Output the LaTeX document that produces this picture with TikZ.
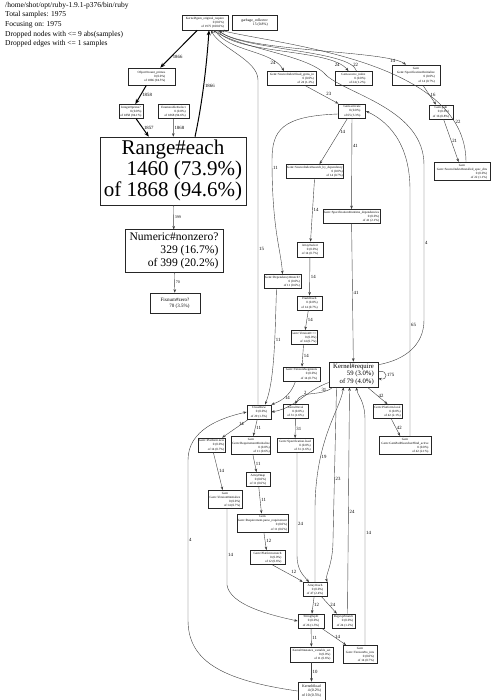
\documentclass[tikz,border=0pt]{standalone}
\usepackage{fontspec}
\setmainfont{Liberation Serif}
\usepackage{tikz}
\usetikzlibrary{arrows.meta,calc}
\newcommand{\prof}[3]{\begin{tabular}{@{}r@{}}\multicolumn{1}{@{}c@{}}{#1}\\#2\\of #3\end{tabular}}
\newcommand{\profg}[3]{\begin{tabular}{@{}r@{}}\multicolumn{1}{@{}c@{}}{Gem}\\\multicolumn{1}{@{}c@{}}{#1}\\#2\\of #3\end{tabular}}

\begin{document}
\begin{tikzpicture}[x=1pt,y=1pt,
  fnbox/.style={draw=black!85,line width=0.6pt,fill=white,inner sep=0.8pt,font=\fontsize{3.2}{4.2}\selectfont},
  calls/.style={draw=black!75,line width=0.4pt,-{Stealth[length=3.5pt,width=2.6pt]}},
  heavy/.style={draw=black,line width=1pt,-{Stealth[length=5pt,width=4pt]}},
  elab/.style={font=\fontsize{4.8}{5}\selectfont,inner sep=1pt}]
\fill[white] (0,0) rectangle (491,-700);
\useasboundingbox (0,0) rectangle (491,-700);
\node[anchor=north west,align=left,inner sep=0pt,font=\fontsize{7.5}{9.6}\selectfont] (hdr) at (5,-2) {/home/shot/opt/ruby-1.9.1-p376/bin/ruby\\Total samples: 1975\\Focusing on: 1975\\Dropped nodes with <= 9 abs(samples)\\Dropped edges with <= 1 samples};
% left column: the hot path
\node[fnbox,minimum width=46pt,minimum height=15pt] (gor) at (205,-22.5) {\prof{Kernel\#gem\_original\_require}{0 (0.0\%)}{1975 (100.0\%)}};
\node[fnbox,minimum width=45pt,minimum height=15pt,align=right,font=\fontsize{3.7}{4.6}\selectfont] (gc) at (254.5,-22.5) {garbage\_collector\\15 (0.8\%)};
\node[fnbox,minimum width=47pt,minimum height=17pt] (cp) at (151.5,-76.5) {\prof{Object\#count\_primes}{0 (0.0\%)}{1866 (94.5\%)}};
\node[fnbox,minimum width=24pt,minimum height=13pt] (ip) at (131,-111.5) {\prof{Integer\#prime?}{0 (0.0\%)}{1858 (94.1\%)}};
\node[fnbox,minimum width=31pt,minimum height=13pt] (es) at (173.5,-111.5) {\prof{Enumerable\#select}{0 (0.0\%)}{1868 (94.6\%)}};
\node[fnbox,minimum width=146pt,minimum height=68pt,inner sep=2pt,font=\fontsize{21}{21}\selectfont] (re) at (173,-171) {\prof{Range\#each}{1460 (73.9\%)}{1868 (94.6\%)}};
\node[fnbox,minimum width=98pt,minimum height=38pt,inner sep=2pt,font=\fontsize{11.6}{12.8}\selectfont] (nz) at (174,-251) {\prof{Numeric\#nonzero?}{329 (16.7\%)}{399 (20.2\%)}};
\node[fnbox,minimum width=50pt,minimum height=20pt,align=center,font=\fontsize{5}{6}\selectfont] (fz) at (175,-303) {Fixnum\#zero?\\\hfill 70 (3.5\%)};
% right part: rubygems
\node[fnbox,minimum width=49pt,minimum height=13pt] (lg) at (292,-78.5) {\prof{Gem::SourceIndex\#load\_gems\_in}{0 (0.0\%)}{24 (1.2\%)}};
\node[fnbox,minimum width=37pt,minimum height=13pt] (si) at (353.5,-78.5) {\prof{Gem.source\_index}{0 (0.0\%)}{24 (1.2\%)}};
\node[fnbox,minimum width=48pt,minimum height=20pt] (sp) at (416,-75) {\profg{Gem::Specification\#initialize}{0 (0.0\%)}{14 (0.7\%)}};
\node[fnbox,minimum width=27pt,minimum height=14pt] (ga) at (352,-111) {\prof{Gem.activate}{0 (0.0\%)}{65 (3.3\%)}};
\node[fnbox,minimum width=24pt,minimum height=12pt] (gp) at (441,-112) {\prof{Gem.path}{0 (0.0\%)}{16 (0.8\%)}};
\node[fnbox,minimum width=56pt,minimum height=17pt] (sd) at (462,-171.5) {\profg{Gem::SourceIndex\#installed\_spec\_dirs}{0 (0.0\%)}{22 (1.1\%)}};
\node[fnbox,minimum width=57pt,minimum height=13pt] (sbd) at (315,-171.5) {\prof{Gem::SourceIndex\#search\_by\_dependency}{0 (0.0\%)}{14 (0.7\%)}};
\node[fnbox,minimum width=57pt,minimum height=13pt] (rd) at (351.5,-216.5) {\prof{Gem::Specification\#runtime\_dependencies}{0 (0.0\%)}{41 (2.1\%)}};
\node[fnbox,minimum width=26pt,minimum height=15pt] (as) at (310,-249.5) {\prof{Array\#select}{0 (0.0\%)}{14 (0.7\%)}};
\node[fnbox,minimum width=37pt,minimum height=13pt] (dm) at (282.5,-281.5) {\prof{Gem::Dependency\#match?}{0 (0.0\%)}{11 (0.6\%)}};
\node[fnbox,minimum width=25pt,minimum height=12pt] (he) at (309.5,-303) {\prof{Hash\#each}{0 (0.0\%)}{14 (0.7\%)}};
\node[fnbox,minimum width=24pt,minimum height=13pt] (vc) at (304,-337.5) {\prof{Gem::Version\#<=>}{0 (0.0\%)}{14 (0.7\%)}};
\node[fnbox,minimum width=37pt,minimum height=12pt] (vs) at (301.5,-374) {\prof{Gem::Version\#segments}{0 (0.0\%)}{14 (0.7\%)}};
\node[fnbox,minimum width=49pt,minimum height=25pt,font=\fontsize{6.7}{7.3}\selectfont] (kr) at (353.5,-374.5) {\prof{Kernel\#require}{59 (3.0\%)}{79 (4.0\%)}};
\node[fnbox,minimum width=24pt,minimum height=14pt] (cn) at (259,-412) {\prof{Class\#new}{0 (0.0\%)}{29 (1.5\%)}};
\node[fnbox,minimum width=25pt,minimum height=13pt] (ke) at (295.5,-411.5) {\prof{Kernel\#eval}{0 (0.0\%)}{31 (1.6\%)}};
\node[fnbox,minimum width=29pt,minimum height=13pt] (pl) at (387.5,-411.5) {\prof{Gem::Platform.local}{0 (0.0\%)}{42 (2.1\%)}};
\node[fnbox,minimum width=27pt,minimum height=14pt] (pn) at (211.5,-445) {\prof{Gem::Platform.new}{0 (0.0\%)}{14 (0.7\%)}};
\node[fnbox,minimum width=38pt,minimum height=17pt] (ri) at (251,-445.5) {\profg{Gem::Requirement\#initialize}{0 (0.0\%)}{11 (0.6\%)}};
\node[fnbox,minimum width=36pt,minimum height=13pt] (sl) at (295,-445.5) {\prof{Gem::Specification.load}{0 (0.0\%)}{31 (1.6\%)}};
\node[fnbox,minimum width=52pt,minimum height=17pt] (fa) at (405,-445.5) {\profg{Gem::GemPathSearcher\#find\_active}{0 (0.0\%)}{42 (2.1\%)}};
\node[fnbox,minimum width=24pt,minimum height=13pt] (am) at (258,-479.5) {\prof{Array\#map}{0 (0.0\%)}{11 (0.6\%)}};
\node[fnbox,minimum width=34pt,minimum height=15pt] (vi) at (225,-499.5) {\profg{Gem::Version\#initialize}{0 (0.0\%)}{14 (0.7\%)}};
\node[fnbox,minimum width=51pt,minimum height=16pt] (pr) at (262.5,-523) {\profg{Gem::Requirement.parse\_requirement}{0 (0.0\%)}{11 (0.6\%)}};
\node[fnbox,minimum width=35pt,minimum height=13pt] (pm) at (267.5,-557.5) {\prof{Gem::Platform.match}{0 (0.0\%)}{12 (0.6\%)}};
\node[fnbox,minimum width=24pt,minimum height=13pt] (ae) at (315,-589.5) {\prof{Array\#each}{0 (0.0\%)}{47 (2.4\%)}};
\node[fnbox,minimum width=26pt,minimum height=14pt] (ss) at (311,-621) {\prof{String\#split}{0 (0.0\%)}{26 (1.3\%)}};
\node[fnbox,minimum width=23pt,minimum height=14pt] (rx) at (343.5,-621) {\prof{Regexp\#match}{0 (0.0\%)}{24 (1.2\%)}};
\node[fnbox,minimum width=43pt,minimum height=15pt] (ivs) at (311.5,-654.5) {\prof{Kernel\#instance\_variable\_set}{0 (0.0\%)}{11 (0.6\%)}};
\node[fnbox,minimum width=34pt,minimum height=17pt] (ti) at (360,-654.5) {\profg{Gem::Version\#to\_ints}{0 (0.0\%)}{14 (0.7\%)}};
\node[fnbox,minimum width=27pt,minimum height=18pt,font=\fontsize{3.8}{4.8}\selectfont] (kl) at (311.5,-691) {\prof{Kernel\#load}{4 (0.2\%)}{10 (0.5\%)}};
% hot edges
\draw[heavy] (gor) -- node[elab,right,pos=0.7]{1866} (cp);
\draw[heavy] (cp) -- node[elab,right]{1858} (ip);
\draw[heavy] (ip) -- node[elab,right]{1857} (re);
\draw[calls] (es) -- node[elab,right]{1868} (re);
\draw[heavy] ([xshift=22pt]re.north) .. controls (203,-100) and (207,-60) .. node[elab,right,pos=0.45]{1866} ([xshift=4pt]gor.south);
\draw[calls] (re) -- node[elab,right,font=\fontsize{4}{4}\selectfont]{399} (nz);
\draw[calls] (nz) -- node[elab,right,font=\fontsize{4}{4}\selectfont]{70} (fz);
% from and back to the root
\draw[calls] ([xshift=10pt]gor.south) .. controls (228,-52) and (272,-50) .. node[elab,left,pos=0.85]{24} ([xshift=-8pt]lg.north);
\draw[calls] ([xshift=12pt]gor.south) .. controls (235,-55) and (330,-48) .. node[elab,left,pos=0.9]{24} ([xshift=-5pt]si.north);
\draw[calls] ([xshift=3pt]si.north) .. controls (352,-50) and (240,-50) .. node[elab,right,pos=0.1]{22} ([xshift=14pt]gor.south);
\draw[calls] ([xshift=13pt]gor.south) .. controls (240,-52) and (385,-50) .. node[elab,left,pos=0.9]{14} ([xshift=-10pt]sp.north);
\draw[calls] ([xshift=4pt]sd.north) .. controls (466,-60) and (280,-45) .. node[elab,right,pos=0.15]{22} ([xshift=16pt]gor.south);
\draw[calls] ([yshift=-3pt]kr.north east) .. controls (405,-360) and (424,-345) .. (424,-320) -- node[elab,right]{4} (424,-165) .. controls (424,-110) and (350,-95) .. (327,-76) .. controls (310,-55) and (245,-50) .. ([xshift=8pt]gor.south);
\draw[calls] ([xshift=-1pt]cn.north) -- node[elab,right,pos=0.48]{15} (258,-80) .. controls (258,-60) and (220,-48) .. ([xshift=6pt]gor.south);
% gem activation
\draw[calls] (lg) -- node[elab,above right,pos=0.6]{23} (ga);
\draw[calls] (sp) -- node[elab,right]{16} (gp);
\draw[calls] (gp) -- node[elab,right]{21} (sd);
\draw[calls] (ga) -- node[elab,right,pos=0.3]{14} (sbd);
\draw[calls] (ga) -- node[elab,right,pos=0.3]{41} (rd);
\draw[calls] ([yshift=-3pt]ga.west) .. controls (282,-116) and (272,-130) .. (272,-160) node[elab,right,yshift=-8pt]{11} .. controls (272,-230) and (281,-250) .. (dm.north);
\draw[calls] (sbd) -- node[elab,right]{14} (as);
\draw[calls] (as) -- node[elab,right]{14} (he);
\draw[calls] (he) -- node[elab,right]{14} (vc);
\draw[calls] (vc) -- node[elab,right]{14} (vs);
\draw[calls] (rd) -- node[elab,right]{41} (kr);
\draw[calls] ([xshift=5pt]fa.north) -- node[elab,right,pos=0.45]{65} (410,-190) .. controls (410,-140) and (385,-120) .. (ga.east);
% around Kernel#require
\draw[calls] ([xshift=-6pt]dm.south) .. controls (275,-330) and (275,-380) .. node[elab,right,pos=0.4]{11} ([xshift=6pt]cn.north);
\draw[calls] ([xshift=-6pt]vs.south) to[out=-110,in=20] node[elab,right,pos=0.6]{14} (cn.north east);
\draw[calls] ([yshift=-8pt]kr.west) to[out=200,in=10] node[elab,above,pos=0.4]{2} (cn.east);
\draw[calls] ([xshift=4pt]kr.south west) to[out=220,in=70] node[elab,above right,pos=0.3]{31} (ke.north);
\draw[calls] ([yshift=3pt]kr.east) .. controls +(10,2) and +(10,-2) .. node[elab,right]{175} ([yshift=-4pt]kr.east);
\draw[calls] ([xshift=14pt]kr.south) -- node[elab,right]{42} (pl.north);
\draw[calls] (pl) -- node[elab,right]{42} (fa);
\draw[calls] (cn) -- node[elab,above right,pos=0.4]{14} (pn);
\draw[calls] (cn) -- node[elab,right]{11} (ri);
\draw[calls] (ke) -- node[elab,right]{31} (sl);
\draw[calls] (pn) -- node[elab,right]{14} (vi);
\draw[calls] (ri) -- node[elab,right]{11} (am);
\draw[calls] (am) -- node[elab,right]{11} (pr);
\draw[calls] (pr) -- node[elab,right]{12} (pm);
\draw[calls] ([xshift=5pt]pm.south) .. controls (285,-572) and (297,-578) .. node[elab,above right]{12} (ae.north west);
\draw[calls] ([xshift=2pt]sl.south) -- node[elab,right,pos=0.7]{24} (297,-555) .. controls (297,-570) and (303,-575) .. ([xshift=-6pt]ae.north);
\draw[calls] (ae.north) -- (315,-510) .. controls (315,-440) and (340,-410) .. node[elab,right,pos=0.3]{19} ([xshift=-10pt]kr.south);
\draw[calls] ([xshift=-17pt]kr.south) -- node[elab,right,pos=0.6]{23} (333,-540) .. controls (333,-565) and (325,-575) .. (ae.north east);
\draw[calls] ([xshift=4pt]rx.north) -- node[elab,right,pos=0.45]{24} ([xshift=-4pt]kr.south);
\draw[calls] ([xshift=5pt]ti.north) -- node[elab,right,pos=0.5]{14} (365,-420) .. controls (365,-400) and (357,-395) .. ([xshift=3pt]kr.south);
\draw[calls] (ae) -- node[elab,right]{12} (ss);
\draw[calls] (ae) -- node[elab,right]{24} (rx);
\draw[calls] ([xshift=2pt]vi.south) -- node[elab,right,pos=0.6]{14} (227,-585) .. controls (230,-605) and (270,-615) .. (ss.west);
\draw[calls] (ss) -- node[elab,right]{11} (ivs);
\draw[calls] (ss) -- node[elab,right]{14} (ti);
\draw[calls] (ivs) -- node[elab,right]{10} (kl);
\draw[calls] (kl.west) .. controls (220,-680) and (188,-660) .. (188,-620) -- node[elab,right]{4} (188,-460) .. controls (188,-430) and (220,-418) .. (cn.west);
\end{tikzpicture}
\end{document}
